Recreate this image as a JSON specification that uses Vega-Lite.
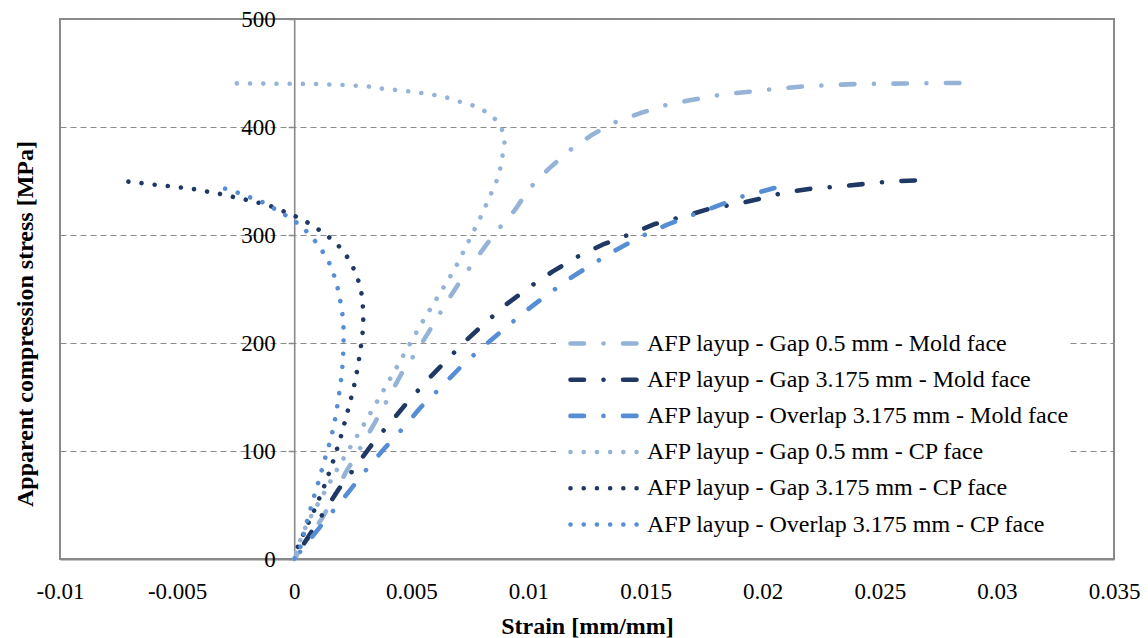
{
  "$schema": "https://vega.github.io/schema/vega-lite/v6.json",
  "width": 1054,
  "height": 540,
  "autosize": {"type": "none"},
  "padding": {"left": 60, "top": 19, "right": 34, "bottom": 79},
  "background": "white",
  "config": {
    "font": "Liberation Serif",
    "view": {"stroke": "#898989", "strokeWidth": 2},
    "axis": {"labelFont": "Liberation Serif", "titleFont": "Liberation Serif", "labelColor": "#000000", "titleColor": "#000000"}
  },
  "data": {
    "values": [
      {"s": "AFP layup - Gap 0.5 mm - Mold face", "i": 0, "x": 0, "y": 0},
      {"s": "AFP layup - Gap 0.5 mm - Mold face", "i": 1, "x": 0.0012, "y": 38},
      {"s": "AFP layup - Gap 0.5 mm - Mold face", "i": 2, "x": 0.00171, "y": 58},
      {"s": "AFP layup - Gap 0.5 mm - Mold face", "i": 3, "x": 0.00217, "y": 79},
      {"s": "AFP layup - Gap 0.5 mm - Mold face", "i": 4, "x": 0.00288, "y": 105},
      {"s": "AFP layup - Gap 0.5 mm - Mold face", "i": 5, "x": 0.00345, "y": 126.5},
      {"s": "AFP layup - Gap 0.5 mm - Mold face", "i": 6, "x": 0.004, "y": 148.4},
      {"s": "AFP layup - Gap 0.5 mm - Mold face", "i": 7, "x": 0.00459, "y": 172},
      {"s": "AFP layup - Gap 0.5 mm - Mold face", "i": 8, "x": 0.00523, "y": 192.2},
      {"s": "AFP layup - Gap 0.5 mm - Mold face", "i": 9, "x": 0.00587, "y": 214.8},
      {"s": "AFP layup - Gap 0.5 mm - Mold face", "i": 10, "x": 0.00647, "y": 236.4},
      {"s": "AFP layup - Gap 0.5 mm - Mold face", "i": 11, "x": 0.00711, "y": 258},
      {"s": "AFP layup - Gap 0.5 mm - Mold face", "i": 12, "x": 0.00789, "y": 281.8},
      {"s": "AFP layup - Gap 0.5 mm - Mold face", "i": 13, "x": 0.00863, "y": 303.3},
      {"s": "AFP layup - Gap 0.5 mm - Mold face", "i": 14, "x": 0.00943, "y": 323.4},
      {"s": "AFP layup - Gap 0.5 mm - Mold face", "i": 15, "x": 0.01004, "y": 343},
      {"s": "AFP layup - Gap 0.5 mm - Mold face", "i": 16, "x": 0.01085, "y": 361},
      {"s": "AFP layup - Gap 0.5 mm - Mold face", "i": 17, "x": 0.01175, "y": 378.3},
      {"s": "AFP layup - Gap 0.5 mm - Mold face", "i": 18, "x": 0.01272, "y": 392.9},
      {"s": "AFP layup - Gap 0.5 mm - Mold face", "i": 19, "x": 0.01375, "y": 404.9},
      {"s": "AFP layup - Gap 0.5 mm - Mold face", "i": 20, "x": 0.01487, "y": 413.5},
      {"s": "AFP layup - Gap 0.5 mm - Mold face", "i": 21, "x": 0.01597, "y": 421},
      {"s": "AFP layup - Gap 0.5 mm - Mold face", "i": 22, "x": 0.01713, "y": 425.6},
      {"s": "AFP layup - Gap 0.5 mm - Mold face", "i": 23, "x": 0.01828, "y": 430.2},
      {"s": "AFP layup - Gap 0.5 mm - Mold face", "i": 24, "x": 0.01945, "y": 432.7},
      {"s": "AFP layup - Gap 0.5 mm - Mold face", "i": 25, "x": 0.02062, "y": 435.5},
      {"s": "AFP layup - Gap 0.5 mm - Mold face", "i": 26, "x": 0.02177, "y": 437.6},
      {"s": "AFP layup - Gap 0.5 mm - Mold face", "i": 27, "x": 0.02295, "y": 438.9},
      {"s": "AFP layup - Gap 0.5 mm - Mold face", "i": 28, "x": 0.0241, "y": 439.8},
      {"s": "AFP layup - Gap 0.5 mm - Mold face", "i": 29, "x": 0.02528, "y": 440.1},
      {"s": "AFP layup - Gap 0.5 mm - Mold face", "i": 30, "x": 0.02645, "y": 440.4},
      {"s": "AFP layup - Gap 0.5 mm - Mold face", "i": 31, "x": 0.02762, "y": 440.7},
      {"s": "AFP layup - Gap 0.5 mm - Mold face", "i": 32, "x": 0.0284, "y": 440.8},

      {"s": "AFP layup - Gap 3.175 mm - Mold face", "i": 0, "x": 0, "y": 0},
      {"s": "AFP layup - Gap 3.175 mm - Mold face", "i": 1, "x": 0.00127, "y": 43.5},
      {"s": "AFP layup - Gap 3.175 mm - Mold face", "i": 2, "x": 0.00191, "y": 65},
      {"s": "AFP layup - Gap 3.175 mm - Mold face", "i": 3, "x": 0.00263, "y": 85.7},
      {"s": "AFP layup - Gap 3.175 mm - Mold face", "i": 4, "x": 0.00333, "y": 106.5},
      {"s": "AFP layup - Gap 3.175 mm - Mold face", "i": 5, "x": 0.00409, "y": 126},
      {"s": "AFP layup - Gap 3.175 mm - Mold face", "i": 6, "x": 0.00487, "y": 146},
      {"s": "AFP layup - Gap 3.175 mm - Mold face", "i": 7, "x": 0.00567, "y": 165.4},
      {"s": "AFP layup - Gap 3.175 mm - Mold face", "i": 8, "x": 0.00728, "y": 201.2},
      {"s": "AFP layup - Gap 3.175 mm - Mold face", "i": 9, "x": 0.00815, "y": 218.5},
      {"s": "AFP layup - Gap 3.175 mm - Mold face", "i": 10, "x": 0.00907, "y": 236},
      {"s": "AFP layup - Gap 3.175 mm - Mold face", "i": 11, "x": 0.01004, "y": 251.8},
      {"s": "AFP layup - Gap 3.175 mm - Mold face", "i": 12, "x": 0.01104, "y": 266.3},
      {"s": "AFP layup - Gap 3.175 mm - Mold face", "i": 13, "x": 0.01207, "y": 279.6},
      {"s": "AFP layup - Gap 3.175 mm - Mold face", "i": 14, "x": 0.01316, "y": 291},
      {"s": "AFP layup - Gap 3.175 mm - Mold face", "i": 15, "x": 0.01428, "y": 300.3},
      {"s": "AFP layup - Gap 3.175 mm - Mold face", "i": 16, "x": 0.0154, "y": 310.2},
      {"s": "AFP layup - Gap 3.175 mm - Mold face", "i": 17, "x": 0.01659, "y": 317},
      {"s": "AFP layup - Gap 3.175 mm - Mold face", "i": 18, "x": 0.01775, "y": 324.4},
      {"s": "AFP layup - Gap 3.175 mm - Mold face", "i": 19, "x": 0.01892, "y": 329},
      {"s": "AFP layup - Gap 3.175 mm - Mold face", "i": 20, "x": 0.0201, "y": 334.5},
      {"s": "AFP layup - Gap 3.175 mm - Mold face", "i": 21, "x": 0.02083, "y": 338.9},
      {"s": "AFP layup - Gap 3.175 mm - Mold face", "i": 22, "x": 0.02197, "y": 342.6},
      {"s": "AFP layup - Gap 3.175 mm - Mold face", "i": 23, "x": 0.02312, "y": 344.7},
      {"s": "AFP layup - Gap 3.175 mm - Mold face", "i": 24, "x": 0.0243, "y": 347.2},
      {"s": "AFP layup - Gap 3.175 mm - Mold face", "i": 25, "x": 0.02547, "y": 349.6},
      {"s": "AFP layup - Gap 3.175 mm - Mold face", "i": 26, "x": 0.0265, "y": 350.5},

      {"s": "AFP layup - Overlap 3.175 mm - Mold face", "i": 0, "x": 0, "y": 0},
      {"s": "AFP layup - Overlap 3.175 mm - Mold face", "i": 1, "x": 0.00156, "y": 42},
      {"s": "AFP layup - Overlap 3.175 mm - Mold face", "i": 2, "x": 0.00231, "y": 61.7},
      {"s": "AFP layup - Overlap 3.175 mm - Mold face", "i": 3, "x": 0.00305, "y": 82},
      {"s": "AFP layup - Overlap 3.175 mm - Mold face", "i": 4, "x": 0.00383, "y": 101.8},
      {"s": "AFP layup - Overlap 3.175 mm - Mold face", "i": 5, "x": 0.00462, "y": 120.6},
      {"s": "AFP layup - Overlap 3.175 mm - Mold face", "i": 6, "x": 0.00541, "y": 140.7},
      {"s": "AFP layup - Overlap 3.175 mm - Mold face", "i": 7, "x": 0.00626, "y": 158.9},
      {"s": "AFP layup - Overlap 3.175 mm - Mold face", "i": 8, "x": 0.00709, "y": 177.4},
      {"s": "AFP layup - Overlap 3.175 mm - Mold face", "i": 9, "x": 0.008, "y": 195.4},
      {"s": "AFP layup - Overlap 3.175 mm - Mold face", "i": 10, "x": 0.00974, "y": 227.1},
      {"s": "AFP layup - Overlap 3.175 mm - Mold face", "i": 11, "x": 0.01067, "y": 242.6},
      {"s": "AFP layup - Overlap 3.175 mm - Mold face", "i": 12, "x": 0.01168, "y": 258.6},
      {"s": "AFP layup - Overlap 3.175 mm - Mold face", "i": 13, "x": 0.01269, "y": 272.5},
      {"s": "AFP layup - Overlap 3.175 mm - Mold face", "i": 14, "x": 0.01374, "y": 286.1},
      {"s": "AFP layup - Overlap 3.175 mm - Mold face", "i": 15, "x": 0.01478, "y": 298.4},
      {"s": "AFP layup - Overlap 3.175 mm - Mold face", "i": 16, "x": 0.0159, "y": 309.3},
      {"s": "AFP layup - Overlap 3.175 mm - Mold face", "i": 17, "x": 0.017, "y": 318.5},
      {"s": "AFP layup - Overlap 3.175 mm - Mold face", "i": 18, "x": 0.01818, "y": 327.8},
      {"s": "AFP layup - Overlap 3.175 mm - Mold face", "i": 19, "x": 0.0191, "y": 335.5},
      {"s": "AFP layup - Overlap 3.175 mm - Mold face", "i": 20, "x": 0.02, "y": 340.5},
      {"s": "AFP layup - Overlap 3.175 mm - Mold face", "i": 21, "x": 0.0205, "y": 343.5},

      {"s": "AFP layup - Gap 0.5 mm - CP face", "i": 0, "x": 0, "y": 0},
      {"s": "AFP layup - Gap 0.5 mm - CP face", "i": 1, "x": 0.00036, "y": 24},
      {"s": "AFP layup - Gap 0.5 mm - CP face", "i": 2, "x": 0.00079, "y": 42.6},
      {"s": "AFP layup - Gap 0.5 mm - CP face", "i": 3, "x": 0.00127, "y": 61},
      {"s": "AFP layup - Gap 0.5 mm - CP face", "i": 4, "x": 0.00174, "y": 79.6},
      {"s": "AFP layup - Gap 0.5 mm - CP face", "i": 5, "x": 0.00224, "y": 98},
      {"s": "AFP layup - Gap 0.5 mm - CP face", "i": 6, "x": 0.00277, "y": 117},
      {"s": "AFP layup - Gap 0.5 mm - CP face", "i": 7, "x": 0.00332, "y": 137.6},
      {"s": "AFP layup - Gap 0.5 mm - CP face", "i": 8, "x": 0.00386, "y": 158},
      {"s": "AFP layup - Gap 0.5 mm - CP face", "i": 9, "x": 0.00439, "y": 178},
      {"s": "AFP layup - Gap 0.5 mm - CP face", "i": 10, "x": 0.00494, "y": 199.4},
      {"s": "AFP layup - Gap 0.5 mm - CP face", "i": 11, "x": 0.00549, "y": 220},
      {"s": "AFP layup - Gap 0.5 mm - CP face", "i": 12, "x": 0.00605, "y": 240},
      {"s": "AFP layup - Gap 0.5 mm - CP face", "i": 13, "x": 0.00684, "y": 268},
      {"s": "AFP layup - Gap 0.5 mm - CP face", "i": 14, "x": 0.00733, "y": 289},
      {"s": "AFP layup - Gap 0.5 mm - CP face", "i": 15, "x": 0.00758, "y": 300},
      {"s": "AFP layup - Gap 0.5 mm - CP face", "i": 16, "x": 0.00783, "y": 311},
      {"s": "AFP layup - Gap 0.5 mm - CP face", "i": 17, "x": 0.00807, "y": 321.6},
      {"s": "AFP layup - Gap 0.5 mm - CP face", "i": 18, "x": 0.00874, "y": 355},
      {"s": "AFP layup - Gap 0.5 mm - CP face", "i": 19, "x": 0.00892, "y": 377},
      {"s": "AFP layup - Gap 0.5 mm - CP face", "i": 20, "x": 0.009, "y": 389},
      {"s": "AFP layup - Gap 0.5 mm - CP face", "i": 21, "x": 0.00883, "y": 400},
      {"s": "AFP layup - Gap 0.5 mm - CP face", "i": 22, "x": 0.0085, "y": 409.5},
      {"s": "AFP layup - Gap 0.5 mm - CP face", "i": 23, "x": 0.00803, "y": 416},
      {"s": "AFP layup - Gap 0.5 mm - CP face", "i": 24, "x": 0.00752, "y": 421},
      {"s": "AFP layup - Gap 0.5 mm - CP face", "i": 25, "x": 0.00696, "y": 424},
      {"s": "AFP layup - Gap 0.5 mm - CP face", "i": 26, "x": 0.00645, "y": 427.8},
      {"s": "AFP layup - Gap 0.5 mm - CP face", "i": 27, "x": 0.0059, "y": 430},
      {"s": "AFP layup - Gap 0.5 mm - CP face", "i": 28, "x": 0.00534, "y": 431.8},
      {"s": "AFP layup - Gap 0.5 mm - CP face", "i": 29, "x": 0.00479, "y": 433.3},
      {"s": "AFP layup - Gap 0.5 mm - CP face", "i": 30, "x": 0.00423, "y": 434.5},
      {"s": "AFP layup - Gap 0.5 mm - CP face", "i": 31, "x": 0.00368, "y": 435.7},
      {"s": "AFP layup - Gap 0.5 mm - CP face", "i": 32, "x": 0.00314, "y": 437.6},
      {"s": "AFP layup - Gap 0.5 mm - CP face", "i": 33, "x": 0.002, "y": 439},
      {"s": "AFP layup - Gap 0.5 mm - CP face", "i": 34, "x": 0.0009, "y": 439.8},
      {"s": "AFP layup - Gap 0.5 mm - CP face", "i": 35, "x": -0.0002, "y": 440},
      {"s": "AFP layup - Gap 0.5 mm - CP face", "i": 36, "x": -0.00245, "y": 440.4},

      {"s": "AFP layup - Gap 3.175 mm - CP face", "i": 0, "x": 0, "y": 0},
      {"s": "AFP layup - Gap 3.175 mm - CP face", "i": 1, "x": 0.0001, "y": 8.6},
      {"s": "AFP layup - Gap 3.175 mm - CP face", "i": 2, "x": 0.00049, "y": 27.8},
      {"s": "AFP layup - Gap 3.175 mm - CP face", "i": 3, "x": 0.00093, "y": 48.7},
      {"s": "AFP layup - Gap 3.175 mm - CP face", "i": 4, "x": 0.00133, "y": 70},
      {"s": "AFP layup - Gap 3.175 mm - CP face", "i": 5, "x": 0.00167, "y": 91},
      {"s": "AFP layup - Gap 3.175 mm - CP face", "i": 6, "x": 0.00199, "y": 113.2},
      {"s": "AFP layup - Gap 3.175 mm - CP face", "i": 7, "x": 0.00227, "y": 135.7},
      {"s": "AFP layup - Gap 3.175 mm - CP face", "i": 8, "x": 0.00254, "y": 158.6},
      {"s": "AFP layup - Gap 3.175 mm - CP face", "i": 9, "x": 0.00272, "y": 178.3},
      {"s": "AFP layup - Gap 3.175 mm - CP face", "i": 10, "x": 0.00288, "y": 201.5},
      {"s": "AFP layup - Gap 3.175 mm - CP face", "i": 11, "x": 0.00294, "y": 213.5},
      {"s": "AFP layup - Gap 3.175 mm - CP face", "i": 12, "x": 0.00295, "y": 226},
      {"s": "AFP layup - Gap 3.175 mm - CP face", "i": 13, "x": 0.00292, "y": 237.6},
      {"s": "AFP layup - Gap 3.175 mm - CP face", "i": 14, "x": 0.00285, "y": 249.4},
      {"s": "AFP layup - Gap 3.175 mm - CP face", "i": 15, "x": 0.0027, "y": 260.5},
      {"s": "AFP layup - Gap 3.175 mm - CP face", "i": 16, "x": 0.00248, "y": 271.6},
      {"s": "AFP layup - Gap 3.175 mm - CP face", "i": 17, "x": 0.0022, "y": 282},
      {"s": "AFP layup - Gap 3.175 mm - CP face", "i": 18, "x": 0.00184, "y": 291.3},
      {"s": "AFP layup - Gap 3.175 mm - CP face", "i": 19, "x": 0.00143, "y": 299},
      {"s": "AFP layup - Gap 3.175 mm - CP face", "i": 20, "x": 0.00097, "y": 306.1},
      {"s": "AFP layup - Gap 3.175 mm - CP face", "i": 21, "x": 0.00049, "y": 312.6},
      {"s": "AFP layup - Gap 3.175 mm - CP face", "i": 22, "x": 0, "y": 317.9},
      {"s": "AFP layup - Gap 3.175 mm - CP face", "i": 23, "x": -0.00052, "y": 322.5},
      {"s": "AFP layup - Gap 3.175 mm - CP face", "i": 24, "x": -0.00105, "y": 327.1},
      {"s": "AFP layup - Gap 3.175 mm - CP face", "i": 25, "x": -0.00158, "y": 330.2},
      {"s": "AFP layup - Gap 3.175 mm - CP face", "i": 26, "x": -0.00213, "y": 333},
      {"s": "AFP layup - Gap 3.175 mm - CP face", "i": 27, "x": -0.00266, "y": 335.5},
      {"s": "AFP layup - Gap 3.175 mm - CP face", "i": 28, "x": -0.00321, "y": 338.2},
      {"s": "AFP layup - Gap 3.175 mm - CP face", "i": 29, "x": -0.00377, "y": 340.4},
      {"s": "AFP layup - Gap 3.175 mm - CP face", "i": 30, "x": -0.00431, "y": 342.6},
      {"s": "AFP layup - Gap 3.175 mm - CP face", "i": 31, "x": -0.00486, "y": 344},
      {"s": "AFP layup - Gap 3.175 mm - CP face", "i": 32, "x": -0.00542, "y": 345.4},
      {"s": "AFP layup - Gap 3.175 mm - CP face", "i": 33, "x": -0.00597, "y": 346.6},
      {"s": "AFP layup - Gap 3.175 mm - CP face", "i": 34, "x": -0.00653, "y": 348.1},
      {"s": "AFP layup - Gap 3.175 mm - CP face", "i": 35, "x": -0.00708, "y": 349.4},

      {"s": "AFP layup - Overlap 3.175 mm - CP face", "i": 0, "x": 0, "y": 0},
      {"s": "AFP layup - Overlap 3.175 mm - CP face", "i": 1, "x": 0.00022, "y": 7},
      {"s": "AFP layup - Overlap 3.175 mm - CP face", "i": 2, "x": 0.00046, "y": 28.3},
      {"s": "AFP layup - Overlap 3.175 mm - CP face", "i": 3, "x": 0.0006, "y": 39.4},
      {"s": "AFP layup - Overlap 3.175 mm - CP face", "i": 4, "x": 0.00075, "y": 50.6},
      {"s": "AFP layup - Overlap 3.175 mm - CP face", "i": 5, "x": 0.00089, "y": 61.4},
      {"s": "AFP layup - Overlap 3.175 mm - CP face", "i": 6, "x": 0.00105, "y": 72.5},
      {"s": "AFP layup - Overlap 3.175 mm - CP face", "i": 7, "x": 0.00119, "y": 83.6},
      {"s": "AFP layup - Overlap 3.175 mm - CP face", "i": 8, "x": 0.00134, "y": 95},
      {"s": "AFP layup - Overlap 3.175 mm - CP face", "i": 9, "x": 0.00149, "y": 105.8},
      {"s": "AFP layup - Overlap 3.175 mm - CP face", "i": 10, "x": 0.00163, "y": 117.6},
      {"s": "AFP layup - Overlap 3.175 mm - CP face", "i": 11, "x": 0.00174, "y": 129},
      {"s": "AFP layup - Overlap 3.175 mm - CP face", "i": 12, "x": 0.00183, "y": 140.4},
      {"s": "AFP layup - Overlap 3.175 mm - CP face", "i": 13, "x": 0.00191, "y": 152},
      {"s": "AFP layup - Overlap 3.175 mm - CP face", "i": 14, "x": 0.00199, "y": 164},
      {"s": "AFP layup - Overlap 3.175 mm - CP face", "i": 15, "x": 0.00205, "y": 176},
      {"s": "AFP layup - Overlap 3.175 mm - CP face", "i": 16, "x": 0.00208, "y": 185},
      {"s": "AFP layup - Overlap 3.175 mm - CP face", "i": 17, "x": 0.0021, "y": 194.4},
      {"s": "AFP layup - Overlap 3.175 mm - CP face", "i": 18, "x": 0.00211, "y": 206},
      {"s": "AFP layup - Overlap 3.175 mm - CP face", "i": 19, "x": 0.0021, "y": 218},
      {"s": "AFP layup - Overlap 3.175 mm - CP face", "i": 20, "x": 0.00204, "y": 230},
      {"s": "AFP layup - Overlap 3.175 mm - CP face", "i": 21, "x": 0.00194, "y": 242},
      {"s": "AFP layup - Overlap 3.175 mm - CP face", "i": 22, "x": 0.00183, "y": 253.3},
      {"s": "AFP layup - Overlap 3.175 mm - CP face", "i": 23, "x": 0.00167, "y": 264.8},
      {"s": "AFP layup - Overlap 3.175 mm - CP face", "i": 24, "x": 0.00146, "y": 276},
      {"s": "AFP layup - Overlap 3.175 mm - CP face", "i": 25, "x": 0.00117, "y": 286},
      {"s": "AFP layup - Overlap 3.175 mm - CP face", "i": 26, "x": 0.00085, "y": 295.6},
      {"s": "AFP layup - Overlap 3.175 mm - CP face", "i": 27, "x": 0.00047, "y": 304.6},
      {"s": "AFP layup - Overlap 3.175 mm - CP face", "i": 28, "x": 0.00006, "y": 312.3},
      {"s": "AFP layup - Overlap 3.175 mm - CP face", "i": 29, "x": -0.00042, "y": 319},
      {"s": "AFP layup - Overlap 3.175 mm - CP face", "i": 30, "x": -0.0009, "y": 325},
      {"s": "AFP layup - Overlap 3.175 mm - CP face", "i": 31, "x": -0.00139, "y": 330.8},
      {"s": "AFP layup - Overlap 3.175 mm - CP face", "i": 32, "x": -0.00192, "y": 335.2},
      {"s": "AFP layup - Overlap 3.175 mm - CP face", "i": 33, "x": -0.00244, "y": 339.4},
      {"s": "AFP layup - Overlap 3.175 mm - CP face", "i": 34, "x": -0.00295, "y": 342.9}
    ]
  },
  "mark": {"type": "line", "strokeCap": "round", "strokeJoin": "round", "strokeWidth": 4.6},
  "encoding": {
    "x": {
      "field": "x", "type": "quantitative",
      "scale": {"domain": [-0.01, 0.035], "nice": false, "zero": false},
      "axis": {
        "values": [-0.01, -0.005, 0, 0.005, 0.01, 0.015, 0.02, 0.025, 0.03, 0.035],
        "format": "~g",
        "labelExpr": "replace(datum.label, '\u2212', '-')",
        "grid": false, "ticks": false,
        "domainColor": "#898989", "domainWidth": 2,
        "labelFontSize": 23, "labelPadding": 21, "labelFlush": false, "labelOverlap": false,
        "title": "Strain [mm/mm]", "titleFontSize": 24, "titleFontWeight": "bold",
        "titleBaseline": "alphabetic", "titleY": 74
      }
    },
    "y": {
      "field": "y", "type": "quantitative",
      "scale": {"domain": [0, 500], "nice": false, "zero": true},
      "axis": {
        "values": [0, 100, 200, 300, 400, 500],
        "offset": -234.2,
        "grid": true, "gridDash": [6, 4], "gridColor": "#8a8a8a", "gridWidth": 1,
        "domainColor": "#898989", "domainWidth": 1.6,
        "ticks": true, "tickColor": "#898989", "tickSize": 6, "tickWidth": 1.5,
        "labelFontSize": 23, "labelPadding": 13, "labelBaseline": "middle",
        "title": "Apparent compression stress [MPa]", "titleFontSize": 24, "titleFontWeight": "bold",
        "titleAngle": 270, "titleBaseline": "alphabetic", "titleAlign": "center",
        "titleX": -262, "titleY": 304.5
      }
    },
    "order": {"field": "i", "type": "quantitative", "sort": "descending"},
    "color": {
      "field": "s", "type": "nominal",
      "scale": {
        "domain": ["AFP layup - Gap 0.5 mm - Mold face", "AFP layup - Gap 3.175 mm - Mold face", "AFP layup - Overlap 3.175 mm - Mold face", "AFP layup - Gap 0.5 mm - CP face", "AFP layup - Gap 3.175 mm - CP face", "AFP layup - Overlap 3.175 mm - CP face"],
        "range": ["#95B3D7", "#1F3864", "#558ED5", "#95B3D7", "#1F3864", "#558ED5"]
      },
      "legend": {
        "title": null, "orient": "none", "legendX": 496, "legendY": 310,
        "fillColor": "white", "padding": 0, "rowPadding": 9.2,
        "labelFont": "Liberation Serif", "labelFontSize": 24, "labelColor": "#000000", "labelLimit": 800, "labelOffset": 62,
        "symbolType": "M0,0H6", "symbolSize": 576, "symbolStrokeWidth": 4.6,
        "encode": {"symbols": {"update": {"strokeCap": {"value": "round"}}}}
      }
    },
    "strokeDash": {
      "field": "s", "type": "nominal",
      "scale": {
        "domain": ["AFP layup - Gap 0.5 mm - Mold face", "AFP layup - Gap 3.175 mm - Mold face", "AFP layup - Overlap 3.175 mm - Mold face", "AFP layup - Gap 0.5 mm - CP face", "AFP layup - Gap 3.175 mm - CP face", "AFP layup - Overlap 3.175 mm - CP face"],
        "range": [[13.5, 19.5, 0.01, 19.5], [13.5, 19.5, 0.01, 19.5], [13.5, 19.5, 0.01, 19.5], [0.01, 13.2], [0.01, 13.2], [0.01, 13.2]]
      },
      "legend": {
        "title": null, "orient": "none", "legendX": 496, "legendY": 310,
        "fillColor": "white", "padding": 0, "rowPadding": 9.2,
        "labelFont": "Liberation Serif", "labelFontSize": 24, "labelColor": "#000000", "labelLimit": 800, "labelOffset": 62,
        "symbolType": "M0,0H6", "symbolSize": 576, "symbolStrokeWidth": 4.6,
        "encode": {"symbols": {"update": {"strokeCap": {"value": "round"}}}}
      }
    }
  }
}
